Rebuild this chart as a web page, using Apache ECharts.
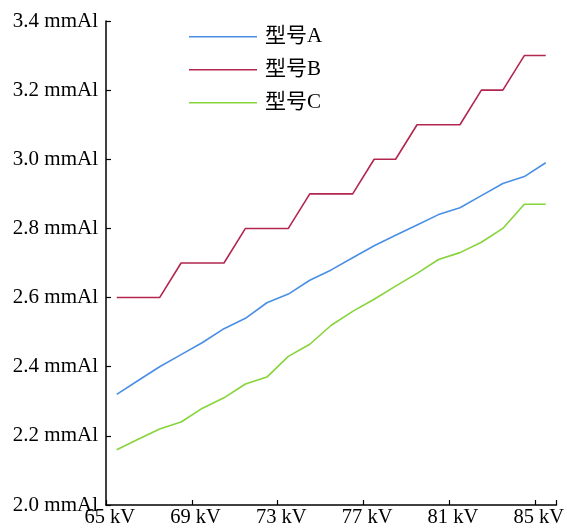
<!DOCTYPE html>
<html>
<head>
<meta charset="utf-8">
<script src="https://cdn.jsdelivr.net/npm/echarts@6/dist/echarts.min.js"></script>
<style>html,body{margin:0;padding:0;background:#fff;}#c{width:567px;height:531px;}</style>
</head>
<body>
<div id="c"></div>
<script>
const categories = [65,66,67,68,69,70,71,72,73,74,75,76,77,78,79,80,81,82,83,84,85];
const seriesNames = ['型号A','型号B','型号C'];
const typeA = [2.32,2.36,2.40,2.435,2.47,2.51,2.54,2.585,2.61,2.65,2.68,2.715,2.75,2.78,2.81,2.84,2.86,2.895,2.93,2.95,2.99];
const typeB = [2.6,2.6,2.6,2.7,2.7,2.7,2.8,2.8,2.8,2.9,2.9,2.9,3.0,3.0,3.1,3.1,3.1,3.2,3.2,3.3,3.3];
const typeC = [2.16,2.19,2.22,2.24,2.28,2.31,2.35,2.37,2.43,2.465,2.52,2.56,2.595,2.633,2.67,2.71,2.73,2.76,2.80,2.87,2.87];
const yMin = 2.0, yMax = 3.4, yStep = 0.2;

const font = "'Liberation Serif','Noto Sans CJK SC',serif";
const colors = ['#4A8FE6','#B3264F','#86D43A'];
const chart = echarts.init(document.getElementById('c'), null, {renderer:'canvas'});
chart.setOption({
  animation:false,
  grid:{left:106,right:7,top:21,bottom:26,containLabel:false},
  legend:{
    orient:'vertical', left:189, top:26, padding:0,
    itemWidth:68, itemHeight:1.4, itemGap:11.5, icon:'rect',
    textStyle:{fontFamily:font,fontSize:21,color:'#000',padding:[0,0,0,3],lineHeight:21.5},
    data:seriesNames
  },
  xAxis:{
    type:'category', data:categories, boundaryGap:true,
    axisLine:{lineStyle:{color:'#000',width:1.5}},
    axisTick:{show:true,inside:true,length:5,interval:3,lineStyle:{color:'#000',width:1.2}},
    axisLabel:{interval:3,margin:2,color:'#000',fontFamily:font,fontSize:20.5,padding:[0,14,0,0],formatter:v=>v+' kV'},
    splitLine:{show:false}
  },
  yAxis:{
    type:'value', min:yMin, max:yMax, interval:yStep,
    axisLine:{show:true,lineStyle:{color:'#000',width:1.5}},
    axisTick:{show:true,inside:true,length:5,lineStyle:{color:'#000',width:1.2}},
    axisLabel:{margin:8,color:'#000',fontFamily:font,fontSize:21,formatter:v=>v.toFixed(1)+' mmAl'},
    splitLine:{show:false}
  },
  series:[
    {name:seriesNames[0],type:'line',data:typeA,symbol:'none',lineStyle:{width:1.6,color:colors[0]},itemStyle:{color:colors[0]}},
    {name:seriesNames[1],type:'line',data:typeB,symbol:'none',lineStyle:{width:1.6,color:colors[1]},itemStyle:{color:colors[1]}},
    {name:seriesNames[2],type:'line',data:typeC,symbol:'none',lineStyle:{width:1.6,color:colors[2]},itemStyle:{color:colors[2]}}
  ]
});
</script>
</body>
</html>
